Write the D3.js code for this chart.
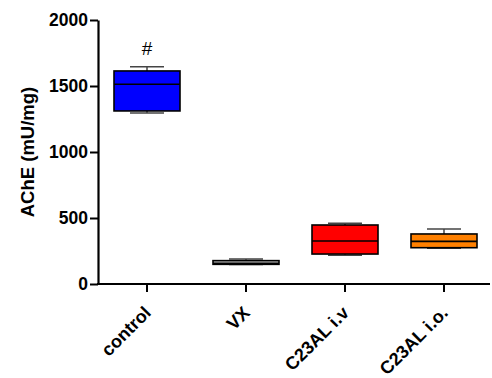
<!DOCTYPE html>
<html>
<head>
<meta charset="utf-8">
<script src="https://cdn.jsdelivr.net/npm/d3@7"></script>
<style>
  body { margin: 0; background: #fff; }
  text { font-family: Arial, "Liberation Sans", sans-serif; }
</style>
</head>
<body>
<script>
// groups and their box statistics
var groups = ["control", "VX", "C23AL i.v", "C23AL i.o."];
var mins   = [1295, 147, 217, 270];
var q1s    = [1311, 149, 227, 275];
var medians = [1513, 156, 326, 323];
var q3s    = [1614, 177, 447, 379];
var maxs   = [1646, 189, 460, 417];
var fills  = ["#0000ff", "#c8c8c8", "#ff0000", "#ff8000"];
var yTicks = [0, 500, 1000, 1500, 2000];

var boxes = groups.map(function(g, i) {
    return {name: g, min: mins[i], q1: q1s[i], med: medians[i], q3: q3s[i], max: maxs[i], fill: fills[i]};
});

var svg = d3.select("body").append("svg")
    .attr("width", 492)
    .attr("height", 378);

var x = d3.scalePoint()
    .domain(groups)
    .range([147, 444]);

var y = d3.scaleLinear()
    .domain([0, 2000])
    .range([284, 20]);

var boxW = 66, capW = 34;

// axes
var yAxis = svg.append("g")
    .attr("transform", "translate(98,0)")
    .call(d3.axisLeft(y).tickValues(yTicks).tickFormat(d3.format("d"))
        .tickSize(8).tickPadding(2).tickSizeOuter(0));

yAxis.select(".domain").attr("stroke-width", 2.2);
yAxis.selectAll(".tick line").attr("stroke-width", 2);
yAxis.selectAll(".tick text")
    .attr("font-size", 17.5).attr("font-weight", "bold").attr("fill", "#000");

var xAxis = svg.append("g")
    .attr("transform", "translate(0,284)");
xAxis.append("line")
    .attr("x1", 97).attr("x2", 490)
    .attr("stroke", "#000").attr("stroke-width", 2.2);
xAxis.selectAll("line.tk")
    .data(groups)
    .enter().append("line")
    .attr("class", "tk")
    .attr("x1", function(d) { return x(d); })
    .attr("x2", function(d) { return x(d); })
    .attr("y1", 0).attr("y2", 8)
    .attr("stroke", "#000").attr("stroke-width", 2);
xAxis.selectAll("text")
    .data(groups)
    .enter().append("text")
    .attr("transform", function(d) { return "translate(" + (x(d) + 5) + ",30) rotate(-45)"; })
    .attr("text-anchor", "end")
    .attr("font-size", 18).attr("font-weight", "bold")
    .text(function(d) { return d; });

// y label
svg.append("text")
    .attr("transform", "translate(34," + y(1000) + ") rotate(-90)")
    .attr("text-anchor", "middle")
    .attr("font-size", 18.5).attr("font-weight", "bold")
    .text("AChE (mU/mg)");

// boxes
var g = svg.append("g").selectAll("g")
    .data(boxes)
    .enter().append("g");

g.append("line")
    .attr("x1", function(d) { return x(d.name); })
    .attr("x2", function(d) { return x(d.name); })
    .attr("y1", function(d) { return y(d.max); })
    .attr("y2", function(d) { return y(d.min); })
    .attr("stroke", "#444").attr("stroke-width", 1.5);

g.selectAll("line.cap")
    .data(function(d) { return [[d.name, d.max], [d.name, d.min]]; })
    .enter().append("line")
    .attr("class", "cap")
    .attr("x1", function(d) { return x(d[0]) - capW / 2; })
    .attr("x2", function(d) { return x(d[0]) + capW / 2; })
    .attr("y1", function(d) { return y(d[1]); })
    .attr("y2", function(d) { return y(d[1]); })
    .attr("stroke", "#444").attr("stroke-width", 1.5);

g.append("rect")
    .attr("x", function(d) { return x(d.name) - boxW / 2; })
    .attr("width", boxW)
    .attr("y", function(d) { return y(d.q3); })
    .attr("height", function(d) { return y(d.q1) - y(d.q3); })
    .attr("fill", function(d) { return d.fill; })
    .attr("stroke", "#000").attr("stroke-width", 1.6);

g.append("line")
    .attr("x1", function(d) { return x(d.name) - boxW / 2; })
    .attr("x2", function(d) { return x(d.name) + boxW / 2; })
    .attr("y1", function(d) { return y(d.med); })
    .attr("y2", function(d) { return y(d.med); })
    .attr("stroke", "#000").attr("stroke-width", 1.6);

// significance mark
svg.append("text")
    .attr("x", x("control"))
    .attr("y", 55)
    .attr("text-anchor", "middle")
    .attr("font-size", 19)
    .text("#");
</script>
</body>
</html>
